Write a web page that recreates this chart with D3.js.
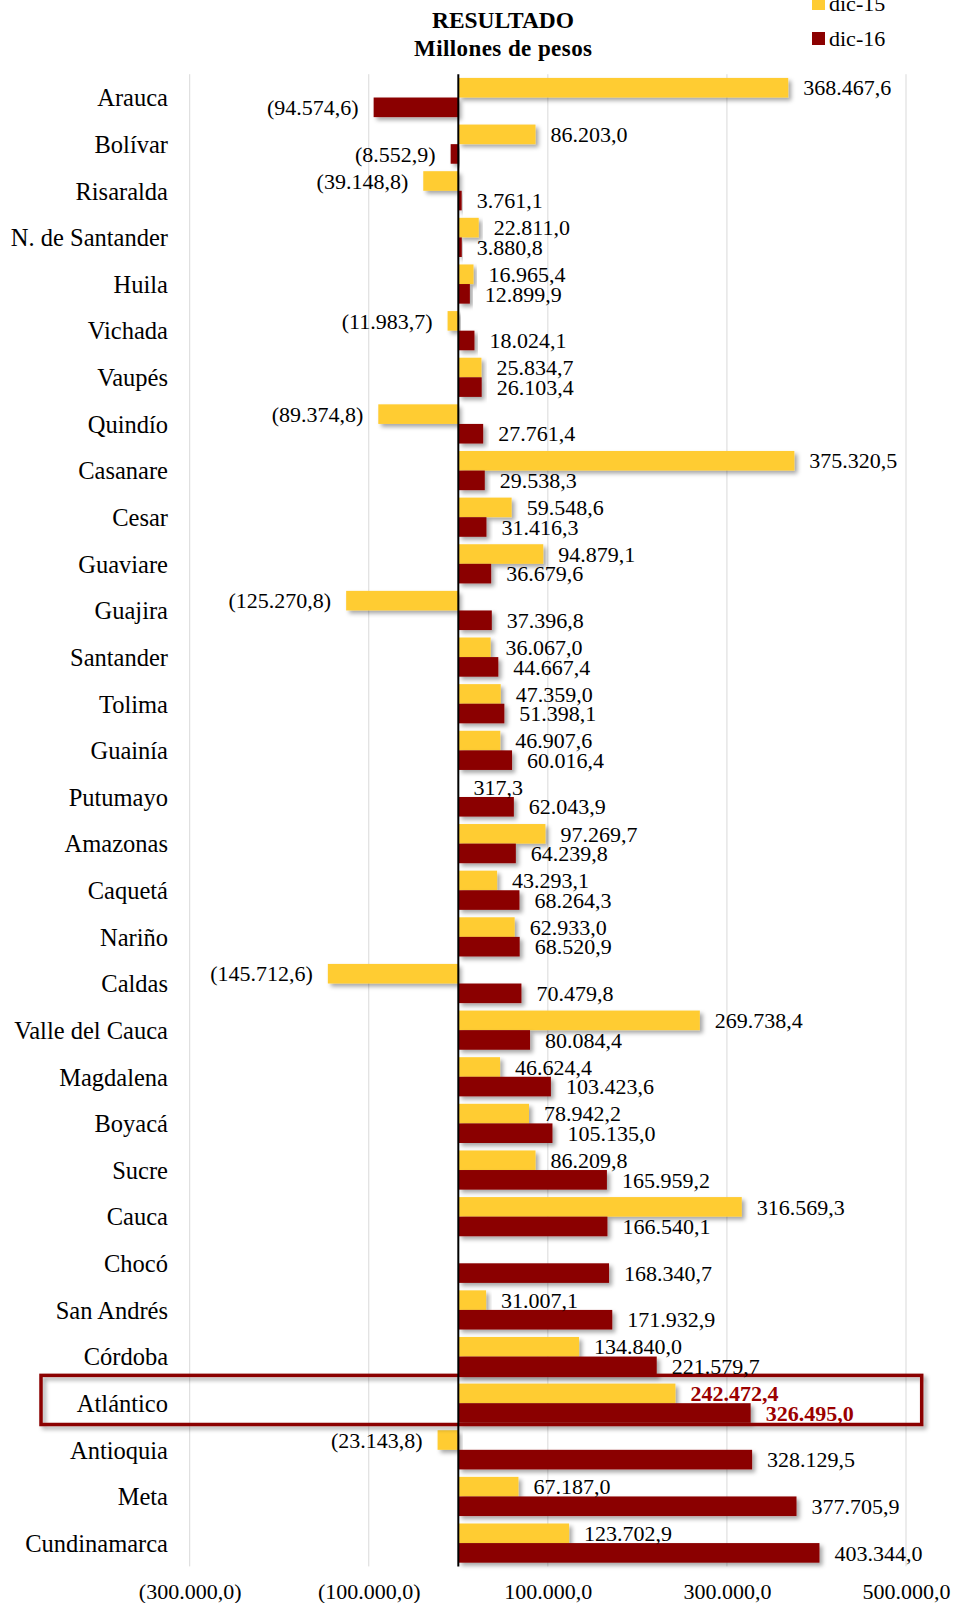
<!DOCTYPE html>
<html>
<head>
<meta charset="utf-8">
<script src="https://cdn.jsdelivr.net/npm/d3@7"></script>
<style>
  html, body { margin: 0; padding: 0; background: #fff; }
  svg { display: block; font-family: "Liberation Serif", "Times New Roman", serif; }
</style>
</head>
<body>
<svg id="chart" width="955" height="1603"></svg>
<script>
const categories = ["Arauca","Bolívar","Risaralda","N. de Santander","Huila","Vichada","Vaupés","Quindío","Casanare","Cesar","Guaviare","Guajira","Santander","Tolima","Guainía","Putumayo","Amazonas","Caquetá","Nariño","Caldas","Valle del Cauca","Magdalena","Boyacá","Sucre","Cauca","Chocó","San Andrés","Córdoba","Atlántico","Antioquia","Meta","Cundinamarca"];
const dic15 = [368467.6,86203.0,-39148.8,22811.0,16965.4,-11983.7,25834.7,-89374.8,375320.5,59548.6,94879.1,-125270.8,36067.0,47359.0,46907.6,317.3,97269.7,43293.1,62933.0,-145712.6,269738.4,46624.4,78942.2,86209.8,316569.3,null,31007.1,134840.0,242472.4,-23143.8,67187.0,123702.9];
const dic16 = [-94574.6,-8552.9,3761.1,3880.8,12899.9,18024.1,26103.4,27761.4,29538.3,31416.3,36679.6,37396.8,44667.4,51398.1,60016.4,62043.9,64239.8,68264.3,68520.9,70479.8,80084.4,103423.6,105135.0,165959.2,166540.1,168340.7,171932.9,221579.7,326495.0,328129.5,377705.9,403344.0];
const seriesNames = ["dic-15","dic-16"];
const tickValues = [-300000,-100000,100000,300000,500000];
const highlight = "Atlántico";
const titleLines = ["RESULTADO","Millones de pesos"];

const colors = {"dic-15":"#FFCC33","dic-16":"#8B0000"};
const svg = d3.select("#chart");

const locale = d3.formatLocale({decimal:",", thousands:".", grouping:[3], currency:["",""]});
const f1 = locale.format(",.1f");
const fmt = v => v < 0 ? "(" + f1(-v) + ")" : f1(v);

const x = d3.scaleLinear().domain([-300000,500000]).range([189.7,906]);
const y = d3.scaleBand().domain(categories).range([74.2,1566.4]).paddingInner(0).paddingOuter(0);
const ys = d3.scaleBand().domain(seriesNames).range([0,y.bandwidth()]).paddingInner(0).paddingOuter(0.19);

const defs = svg.append("defs");
const sh = defs.append("filter").attr("id","shadow").attr("x","-10%").attr("y","-30%").attr("width","130%").attr("height","180%");
sh.append("feDropShadow").attr("dx",3).attr("dy",3).attr("stdDeviation",2).attr("flood-color","#000").attr("flood-opacity",0.35);

// gridlines
svg.append("g").selectAll("line").data(tickValues).join("line")
  .attr("x1",d=>x(d)).attr("x2",d=>x(d))
  .attr("y1",y.range()[0]).attr("y2",y.range()[1])
  .attr("stroke","#D9D9D9").attr("stroke-width",1);

// axis tick labels
const xAxis = d3.axisBottom(x).tickValues(tickValues).tickFormat(fmt).tickSize(0).tickPadding(0);
const gx = svg.append("g").attr("transform","translate(0,1583)").call(xAxis);
gx.select(".domain").remove();
gx.selectAll("text").attr("font-family","Liberation Serif").attr("font-size",22).attr("fill","#000").attr("dy","0.35em").attr("y",8);

// data rows
const rows = categories.map((c,i)=>({cat:c, vals:[{s:"dic-15",v:dic15[i]},{s:"dic-16",v:dic16[i]}]}));

const barG = svg.append("g");
rows.forEach(r=>{
  r.vals.forEach(d=>{
    if (d.v === null) return;
    const y0 = y(r.cat) + ys(d.s);
    barG.append("rect")
      .attr("x", x(Math.min(0,d.v)))
      .attr("y", y0)
      .attr("width", Math.abs(x(d.v)-x(0)))
      .attr("height", ys.bandwidth())
      .attr("fill", colors[d.s])
      .attr("filter","url(#shadow)");
  });
});

// highlight box
svg.append("rect")
  .attr("x",41).attr("y",y(highlight)-4.5)
  .attr("width",921.7-41).attr("height",y.bandwidth()+2.5)
  .attr("fill","none").attr("stroke","#8B0000").attr("stroke-width",3.5)
  .attr("filter","url(#shadow)");

// zero axis line
svg.append("line").attr("x1",x(0)).attr("x2",x(0))
  .attr("y1",y.range()[0]).attr("y2",y.range()[1])
  .attr("stroke","#000").attr("stroke-width",2);

// value labels
const labG = svg.append("g");
rows.forEach(r=>{
  r.vals.forEach(d=>{
    if (d.v === null) return;
    const cy = y(r.cat) + ys(d.s) + ys.bandwidth()/2;
    const hl = r.cat === highlight;
    labG.append("text")
      .attr("x", d.v < 0 ? x(d.v) - 15 : x(d.v) + 15)
      .attr("y", cy).attr("dy","0.35em")
      .attr("text-anchor", d.v < 0 ? "end" : "start")
      .attr("font-size", 22)
      .attr("font-weight", hl ? "bold" : "normal")
      .attr("fill", hl ? "#9B0000" : "#000")
      .text(fmt(d.v));
  });
});

// category labels
svg.append("g").selectAll("text").data(categories).join("text")
  .attr("x",168).attr("y",d=>y(d)+y.bandwidth()/2).attr("dy","0.36em")
  .attr("text-anchor","end").attr("font-size",24.5).attr("fill","#000")
  .text(d=>d);

// title
svg.append("text").attr("x",503).attr("y",28).attr("text-anchor","middle")
  .attr("font-size",23).attr("font-weight","bold").attr("textLength",142).attr("lengthAdjust","spacingAndGlyphs")
  .text(titleLines[0]);
svg.append("text").attr("x",503).attr("y",56).attr("text-anchor","middle")
  .attr("font-size",23).attr("font-weight","bold").attr("textLength",178).attr("lengthAdjust","spacing")
  .text(titleLines[1]);

// legend
const lg = svg.append("g");
seriesNames.forEach((s,i)=>{
  const by = 11 + i*35;
  lg.append("rect").attr("x",812).attr("y",by-14).attr("width",13).attr("height",13).attr("fill",colors[s]);
  lg.append("text").attr("x",829).attr("y",by).attr("font-size",22).attr("fill","#000").text(s);
});
</script>
</body>
</html>
